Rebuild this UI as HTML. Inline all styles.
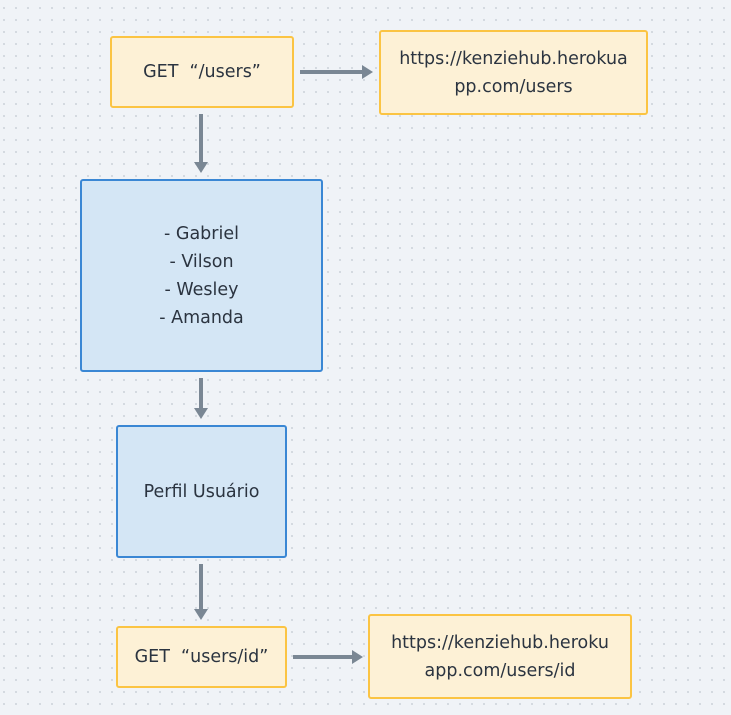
<!DOCTYPE html>
<html><head><style>
html,body{margin:0;padding:0}
body{width:731px;height:715px;position:relative;overflow:hidden;background-color:#f0f3f7;
background-image:radial-gradient(circle,#cdd3da 0.9px,transparent 1.1px);background-size:12px 12px;background-position:-2px 2px;
font-family:"DejaVu Sans","Liberation Sans",sans-serif;color:#2b3440}
.b{position:absolute;box-sizing:border-box;display:flex;align-items:center;justify-content:center;text-align:center;font-size:17.5px;line-height:28px;border-radius:3px}
.y{background:#fdf1d6;border:2px solid #fbc443}
.bl{background:#d4e6f5;border:2px solid #3a87d4}
</style></head><body>
<div class="b y" style="left:110px;top:36px;width:184px;height:72px">GET&nbsp; “/users”</div>
<div class="b y" style="left:379px;top:30px;width:269px;height:85px">https://kenziehub.herokua<br>pp.com/users</div>
<div class="b bl" style="left:80px;top:179px;width:243px;height:193px">- Gabriel<br>- Vilson<br>- Wesley<br>- Amanda</div>
<div class="b bl" style="left:116px;top:425px;width:171px;height:133px">Perfil Usuário</div>
<div class="b y" style="left:116px;top:626px;width:171px;height:62px">GET&nbsp; “users/id”</div>
<div class="b y" style="left:368px;top:614px;width:264px;height:85px">https://kenziehub.heroku<br>app.com/users/id</div>
<svg width="731" height="715" style="position:absolute;left:0;top:0">
<g stroke="#7a8794" stroke-width="4" fill="#7a8794">
<line x1="201" y1="114" x2="201" y2="164"/><polygon stroke="none" points="194,162 208,162 201,173"/>
<line x1="201" y1="378" x2="201" y2="410"/><polygon stroke="none" points="194,408 208,408 201,419"/>
<line x1="201" y1="564" x2="201" y2="611"/><polygon stroke="none" points="194,609 208,609 201,620"/>
<line x1="300" y1="72" x2="364" y2="72"/><polygon stroke="none" points="362,65 362,79 373,72"/>
<line x1="293" y1="657" x2="354" y2="657"/><polygon stroke="none" points="352,650 352,664 363,657"/>
</g></svg>
</body></html>
